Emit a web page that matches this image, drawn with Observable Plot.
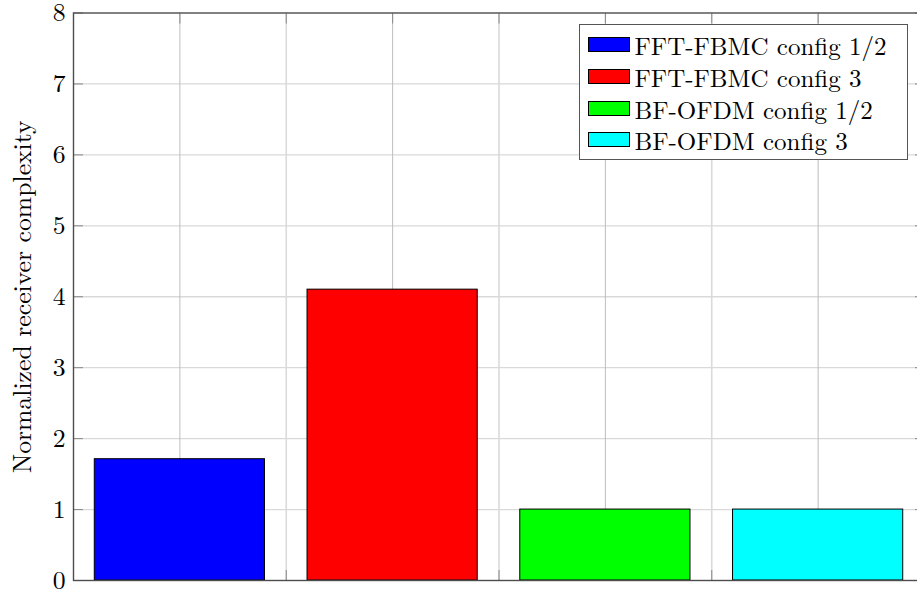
<!DOCTYPE html>
<html>
<head>
<meta charset="utf-8">
<script src="https://cdn.jsdelivr.net/npm/d3@7"></script>
<script src="https://cdn.jsdelivr.net/npm/@observablehq/plot@0.6"></script>
<style>
  html, body { margin: 0; padding: 0; background: #fff; overflow: hidden; }
  #wrap { position: relative; width: 917px; height: 592px; overflow: hidden; }
  #legend {
    position: absolute; left: 578.5px; top: 24px; width: 329px; height: 136px;
    border: 1px solid #555; background: #fff; box-sizing: border-box;
    padding: 4px 0 0 8px; font-family: 'Latin Modern Roman', 'Liberation Serif', serif; font-size: 25px; color: #000;
  }
  .row { height: 31.7px; line-height: 1; display: flex; align-items: center; white-space: nowrap; }
  .sw { width: 42px; height: 15px; border: 1px solid #000; box-sizing: border-box; margin-right: 5px; flex: none; }
  svg text { font-family: 'Latin Modern Roman', 'Liberation Serif', serif; }
</style>
</head>
<body>
<div id="wrap"><div id="chart"></div><div id="legend"></div></div>
<script>
const categories = ["FFT-FBMC config 1/2", "FFT-FBMC config 3", "BF-OFDM config 1/2", "BF-OFDM config 3"];
const values = [1.71, 4.1, 1.0, 1.0];
const colors = ["#0000ff", "#ff0000", "#00ff00", "#00ffff"];
const yTicks = [0, 1, 2, 3, 4, 5, 6, 7, 8];
const xTicks = [1, 2, 3, 4, 5, 6, 7];
const yLabel = "Normalized receiver complexity";

const barWidth = 1.6;
const data = categories.map((c, i) => ({ cat: c, value: values[i], color: colors[i], pos: 2 * i + 1 }));

const font = "'Latin Modern Roman', 'Liberation Serif', serif";
const ctx = document.createElement("canvas").getContext("2d");
ctx.font = "25px " + font; ctx.measureText(yLabel);

const chart = Plot.plot({
  width: 924,
  height: 592,
  marginTop: 12.5,
  marginBottom: 12,
  marginLeft: 73,
  marginRight: 0,
  style: { fontFamily: font, fontSize: "25.7px", color: "#000", maxWidth: "none", overflow: "hidden" },
  x: { domain: [0, 8], axis: null },
  y: { domain: [0, 8], axis: null },
  marks: [
    Plot.ruleY(yTicks.filter(d => d > 0 && d < 8), { stroke: "#d9d9d9", strokeWidth: 1.3, strokeOpacity: 1 }),
    Plot.ruleX(xTicks, { stroke: d => d % 2 ? "#bdbdbd" : "#dadada", strokeWidth: d => d % 2 ? 1 : 1.6, strokeOpacity: 1 }),
    Plot.axisX(xTicks, { anchor: "bottom", tickSize: 10, dy: -10, tickFormat: () => "", label: null, stroke: "#888", strokeWidth: 1 }),
    Plot.axisX(xTicks, { anchor: "top", tickSize: 10, dy: 10, tickFormat: () => "", label: null, stroke: "#888", strokeWidth: 1 }),
    Plot.axisY(yTicks, { anchor: "left", tickSize: 10, dx: 10, tickFormat: () => "", label: null, stroke: "#888", strokeWidth: 1 }),
    Plot.axisY(yTicks, { anchor: "right", tickSize: 10, dx: -10, tickFormat: () => "", label: null, stroke: "#888", strokeWidth: 1 }),
    Plot.rectY(data, {
      x1: d => d.pos - barWidth / 2,
      x2: d => d.pos + barWidth / 2,
      y1: 0,
      y2: "value",
      fill: d => d.color,
      stroke: "#000",
      strokeWidth: 1
    }),
    Plot.frame({ stroke: "#4d4d4d", strokeWidth: 1.4 }),
    Plot.axisY(yTicks, { anchor: "left", tickSize: 0, tickPadding: 8, tickFormat: d => String(d), fontSize: 25.7, fill: "#000", label: null }),
    Plot.text([yLabel], {
      frameAnchor: "left", rotate: -90, dx: -51, textAnchor: "middle", fontSize: 25.7, fill: "#000"
    })
  ]
});
document.getElementById("chart").appendChild(chart);

const legend = document.getElementById("legend");
categories.forEach((c, i) => {
  const row = document.createElement("div");
  row.className = "row";
  const sw = document.createElement("div");
  sw.className = "sw";
  sw.style.background = colors[i];
  const t = document.createElement("span");
  t.textContent = c;
  row.appendChild(sw);
  row.appendChild(t);
  legend.appendChild(row);
});
</script>
</body>
</html>
